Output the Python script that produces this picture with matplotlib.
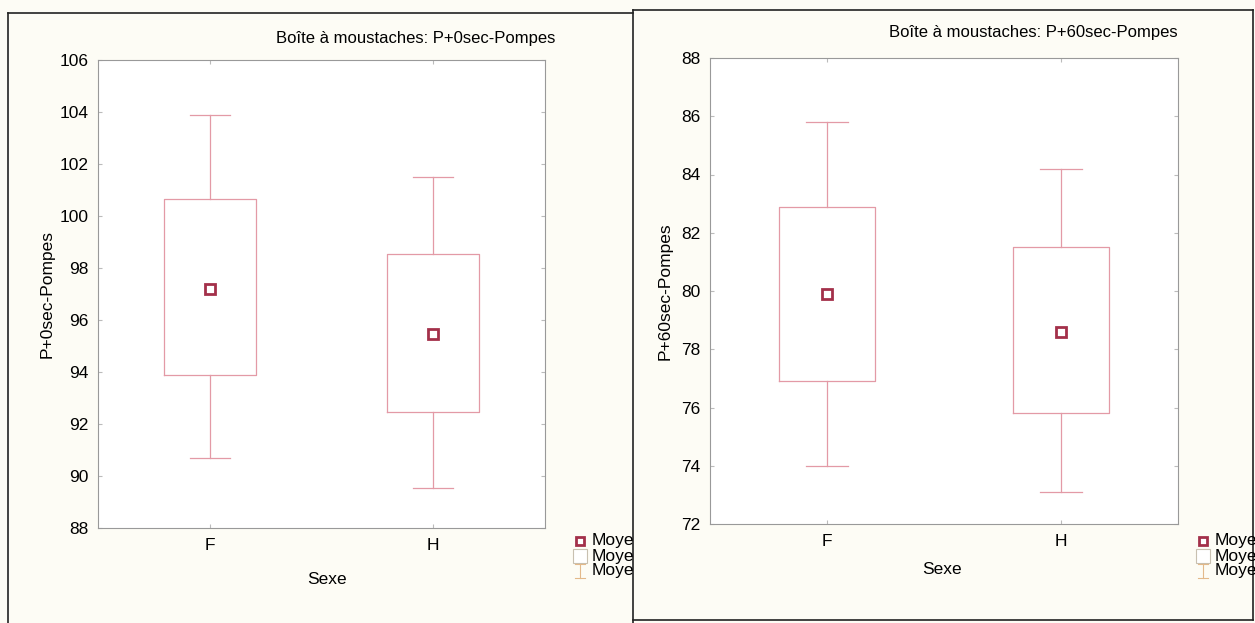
import matplotlib.pyplot as plt
from matplotlib.lines import Line2D

plt.rcParams['font.family'] = ['Liberation Sans', 'DejaVu Sans']

groups = ['F', 'H']

# P+0sec-Pompes: mean, box (low/high), whiskers (low/high)
p0_mean = [97.2, 95.45]
p0_box_lo = [93.9, 92.45]
p0_box_hi = [100.65, 98.55]
p0_whis_lo = [90.7, 89.55]
p0_whis_hi = [103.9, 101.5]

# P+60sec-Pompes
p60_mean = [79.9, 78.6]
p60_box_lo = [76.9, 75.8]
p60_box_hi = [82.9, 81.5]
p60_whis_lo = [74.0, 73.1]
p60_whis_hi = [85.8, 84.2]

BG = '#fdfcf5'
BOX_C = '#e39aa6'
MEAN_C = '#a3304a'
WHIS_LEG_C = '#e3b98a'
FS = 12.5


def make_stats(mean, lo, hi, wlo, whi):
    stats = []
    for i, g in enumerate(groups):
        stats.append(dict(label=g, mean=mean[i], med=mean[i], q1=lo[i], q3=hi[i],
                          whislo=wlo[i], whishi=whi[i], fliers=[]))
    return stats


def draw_panel(rect, stats, ylim, yticks, ylabel, title, title_xy, ylab_x, xlab_xy, leg_x):
    ax = fig.add_axes(rect)
    ax.set_facecolor('white')
    ax.bxp(stats, positions=[0, 1], widths=0.41, capwidths=0.18, showmeans=True,
           showfliers=False,
           boxprops=dict(color=BOX_C, linewidth=0.9),
           whiskerprops=dict(color=BOX_C, linewidth=0.9),
           capprops=dict(color=BOX_C, linewidth=0.9),
           medianprops=dict(linewidth=0),
           meanprops=dict(marker='s', markersize=7, markerfacecolor='white',
                          markeredgecolor=MEAN_C, markeredgewidth=2))
    ax.set_xlim(-0.5, 1.5)
    ax.set_ylim(*ylim)
    ax.set_yticks(yticks)
    ax.set_xticks([0, 1])
    ax.set_xticklabels(groups)
    ax.tick_params(direction='in', length=3, color='#bbbbbb', labelsize=FS,
                   top=True, right=True, pad=7)
    for s in ax.spines.values():
        s.set_color('#999999')
        s.set_linewidth(0.8)

    fig.text(title_xy[0] / W, 1 - title_xy[1] / H, title, ha='right', va='center', fontsize=12)
    fig.text(ylab_x / W, rect[1] + rect[3] / 2, ylabel, rotation=90, ha='center',
             va='center', fontsize=FS)
    fig.text(xlab_xy[0] / W, 1 - xlab_xy[1] / H, 'Sexe', ha='center', va='center', fontsize=FS)

    # legend entries on the right of the plot
    leg_y = [541, 556, 571]
    fig.add_artist(Line2D([leg_x / W], [1 - leg_y[0] / H], marker='s', markersize=6,
                          markerfacecolor='white', markeredgecolor=MEAN_C,
                          markeredgewidth=2, linestyle='none'))
    fig.add_artist(Line2D([leg_x / W], [1 - leg_y[1] / H], marker='s', markersize=10,
                          markerfacecolor='white', markeredgecolor='#c8c0b0',
                          markeredgewidth=0.8, linestyle='none'))
    fig.add_artist(Line2D([leg_x / W, leg_x / W], [1 - (leg_y[2] - 7) / H, 1 - (leg_y[2] + 7) / H],
                          color=WHIS_LEG_C, linewidth=0.8))
    for yy in (leg_y[2] - 7, leg_y[2] + 7):
        fig.add_artist(Line2D([(leg_x - 5) / W, (leg_x + 5) / W], [1 - yy / H, 1 - yy / H],
                              color=WHIS_LEG_C, linewidth=0.8))
    for yy in leg_y:
        fig.text((leg_x + 12) / W, 1 - yy / H, 'Moye', ha='left', va='center', fontsize=FS)
    return ax


W, H = 1255, 623
fig = plt.figure(figsize=(W / 100, H / 100), dpi=100, facecolor=BG)

draw_panel([98 / W, 1 - 528 / H, 447 / W, 468 / H],
           make_stats(p0_mean, p0_box_lo, p0_box_hi, p0_whis_lo, p0_whis_hi),
           (88, 106), range(88, 107, 2), 'P+0sec-Pompes',
           'Boîte à moustaches: P+0sec-Pompes', (555, 38), 47, (327, 579), 580)

draw_panel([710 / W, 1 - 524 / H, 468 / W, 466 / H],
           make_stats(p60_mean, p60_box_lo, p60_box_hi, p60_whis_lo, p60_whis_hi),
           (72, 88), range(72, 89, 2), 'P+60sec-Pompes',
           'Boîte à moustaches: P+60sec-Pompes', (1178, 32), 665, (942, 570), 1203)

# panel frames
frame = dict(color='#222222', linewidth=1.2)
fig.add_artist(Line2D([8 / W, 8 / W], [0, 1 - 13 / H], **frame))
fig.add_artist(Line2D([8 / W, 633 / W], [1 - 13 / H, 1 - 13 / H], **frame))
fig.add_artist(Line2D([633 / W, 633 / W], [0, 1 - 10 / H], **frame))
fig.add_artist(Line2D([633 / W, 1253 / W], [1 - 10 / H, 1 - 10 / H], **frame))
fig.add_artist(Line2D([1253 / W, 1253 / W], [1 - 620 / H, 1 - 10 / H], **frame))
fig.add_artist(Line2D([633 / W, 1253 / W], [1 - 620 / H, 1 - 620 / H], **frame))

fig.savefig('out.png', dpi=100, facecolor=BG)
